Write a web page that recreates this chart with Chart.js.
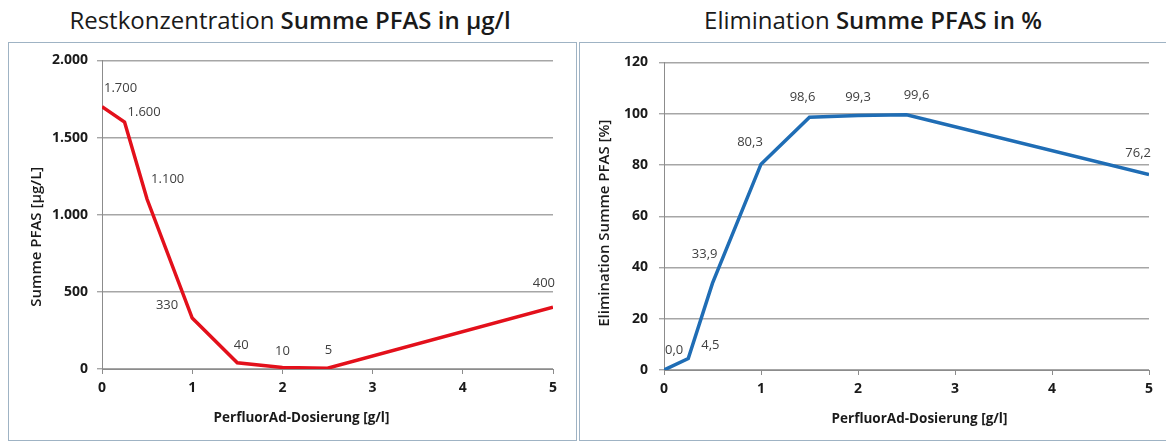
<!DOCTYPE html>
<html>
<head>
<meta charset="utf-8">
<script src="https://cdn.jsdelivr.net/npm/chart.js@4/dist/chart.umd.min.js"></script>
<style>
    body { margin: 0; background: #fff; width: 1166px; height: 441px; overflow: hidden; font-family: "Open Sans", sans-serif; }
    .title { position: absolute; top: 0; height: 40px; line-height: 40px; text-align: center; font-size: 24px; color: #1a1a1a; }
    .title b { font-weight: 600; }
    .panel { position: absolute; top: 42px; height: 399px; border: 1px solid #9fb3c4; box-sizing: border-box; }
    .panel canvas { position: absolute; left: 0; top: 0; }
</style>
</head>
<body>
<div class="title" style="left:0;width:580px;">Restkonzentration <b>Summe PFAS in µg/l</b></div>
<div class="title" style="left:580px;width:586px;">Elimination <b>Summe PFAS in %</b></div>
<div class="panel" style="left:8px;width:569px;"><canvas id="chart-rest"></canvas></div>
<div class="panel" style="left:579px;width:600px;"><canvas id="chart-elim"></canvas></div>
<script>
(function () {
    "use strict";

    // Data
    const dosage = [0, 0.25, 0.5, 1, 1.5, 2, 2.5, 5];
    const restPfas = [1700, 1600, 1100, 330, 40, 10, 5, 400];
    const eliminationPfas = [0, 4.5, 33.9, 80.3, 98.6, 99.3, 99.6, 76.2];
    const restTicks = [0, 500, 1000, 1500, 2000];
    const elimTicks = [0, 20, 40, 60, 80, 100, 120];
    const xTitle = "PerfluorAd-Dosierung [g/l]";

    // label placement per point: [align, dx, dy]
    const restLabelPos = [
        ["left", 2, -18], ["left", 3, -10], ["left", 4, -20], ["right", -14, -13],
        ["center", 4, -18], ["center", 0, -16], ["center", 1, -18], ["right", 2, -24],
    ];
    const elimLabelPos = [
        ["left", 1, -20], ["left", 13, -13], ["right", 5, -29], ["center", -11, -22],
        ["center", -7, -20], ["center", 0, -18], ["center", 10, -19], ["right", 2, -21],
    ];

    const fmtDe = (v, d) => v.toLocaleString("de-DE", { minimumFractionDigits: d, maximumFractionDigits: d });

    const valueLabels = {
        id: "valueLabels",
        afterDatasetsDraw(chart, args, opts) {
            const ctx = chart.ctx;
            const meta = chart.getDatasetMeta(0);
            ctx.save();
            ctx.font = "13px 'Open Sans'";
            ctx.fillStyle = "#404040";
            ctx.textBaseline = "middle";
            meta.data.forEach((pt, i) => {
                const p = opts.positions[i];
                ctx.textAlign = p[0];
                ctx.fillText(opts.format(chart.data.datasets[0].data[i].y), pt.x + p[1], pt.y + p[2]);
            });
            ctx.restore();
        },
    };

    // axis titles drawn by hand so they can sit off-centre like the original
    const axisTitles = {
        id: "axisTitles",
        afterDraw(chart, args, opts) {
            const ctx = chart.ctx;
            const a = chart.chartArea;
            ctx.save();
            ctx.fillStyle = "#1a1a1a";
            ctx.textAlign = "center";
            ctx.textBaseline = "middle";
            ctx.font = "bold 13.5px 'Open Sans'";
            ctx.fillText(opts.x, (a.left + a.right) / 2 + opts.xShift, a.bottom + 49);
            ctx.translate(opts.yX, (a.top + a.bottom) / 2 + opts.yShift);
            ctx.rotate(-Math.PI / 2);
            ctx.font = "600 15px 'Open Sans'";
            ctx.fillText(opts.y, 0, 0);
            ctx.restore();
        },
    };

    function makeChart(id, width, values, ticks, color, yTitle, cfg) {
        const canvas = document.getElementById(id);
        canvas.width = width;
        canvas.height = 397;
        canvas.style.width = width + "px";
        canvas.style.height = "397px";
        return new Chart(canvas.getContext("2d"), {
            type: "line",
            data: {
                datasets: [
                    {
                        data: dosage.map((x, i) => ({ x: x, y: values[i] })),
                        borderColor: color,
                        borderWidth: 3.5,
                        pointRadius: 0,
                        tension: 0,
                        fill: false,
                    },
                ],
            },
            options: {
                responsive: false,
                animation: false,
                layout: { padding: { top: cfg.top, right: cfg.right, left: 0, bottom: 0 } },
                plugins: {
                    legend: { display: false },
                    tooltip: { enabled: false },
                    valueLabels: { positions: cfg.labels, format: cfg.format },
                    axisTitles: { x: xTitle, y: yTitle, xShift: cfg.xShift, yX: cfg.yX, yShift: cfg.yShift },
                },
                scales: {
                    x: {
                        type: "linear",
                        min: 0,
                        max: 5,
                        ticks: {
                            stepSize: 1,
                            font: { size: 14, weight: "bold", family: "'Open Sans'" },
                            color: "#1a1a1a",
                            padding: 6,
                        },
                        grid: { drawOnChartArea: false, color: "#8c8c8c", tickLength: 5 },
                        border: { color: "#8c8c8c", width: 1 },
                        afterFit: (scale) => { scale.height = cfg.xHeight; },
                    },
                    y: {
                        min: ticks[0],
                        max: ticks[ticks.length - 1],
                        afterBuildTicks: (scale) => { scale.ticks = ticks.map((v) => ({ value: v })); },
                        ticks: {
                            font: { size: 14, weight: "bold", family: "'Open Sans'" },
                            color: "#1a1a1a",
                            padding: cfg.yPad,
                            callback: (v) => fmtDe(v, 0),
                        },
                        grid: { color: "#a6a6a6", lineWidth: 1.4, tickLength: 5 },
                        border: { color: "#8c8c8c", width: 1 },
                        afterFit: (scale) => { scale.width = cfg.yWidth; },
                    },
                },
            },
            plugins: [valueLabels, axisTitles],
        });
    }

    makeChart("chart-rest", 567, restPfas, restTicks, "#e3101b", "Summe PFAS [µg/L]", {
        top: 13, right: 23, yWidth: 93, xHeight: 71, yPad: 9,
        xShift: -26, yX: 28, yShift: 22,
        labels: restLabelPos, format: (v) => fmtDe(v, 0),
    });
    makeChart("chart-elim", 598, eliminationPfas, elimTicks, "#1f6db5", "Elimination Summe PFAS [%]", {
        top: 12, right: 29, yWidth: 84, xHeight: 70, yPad: 11,
        xShift: 13, yX: 25, yShift: 7,
        labels: elimLabelPos, format: (v) => fmtDe(v, 1),
    });
})();
</script>
</body>
</html>
